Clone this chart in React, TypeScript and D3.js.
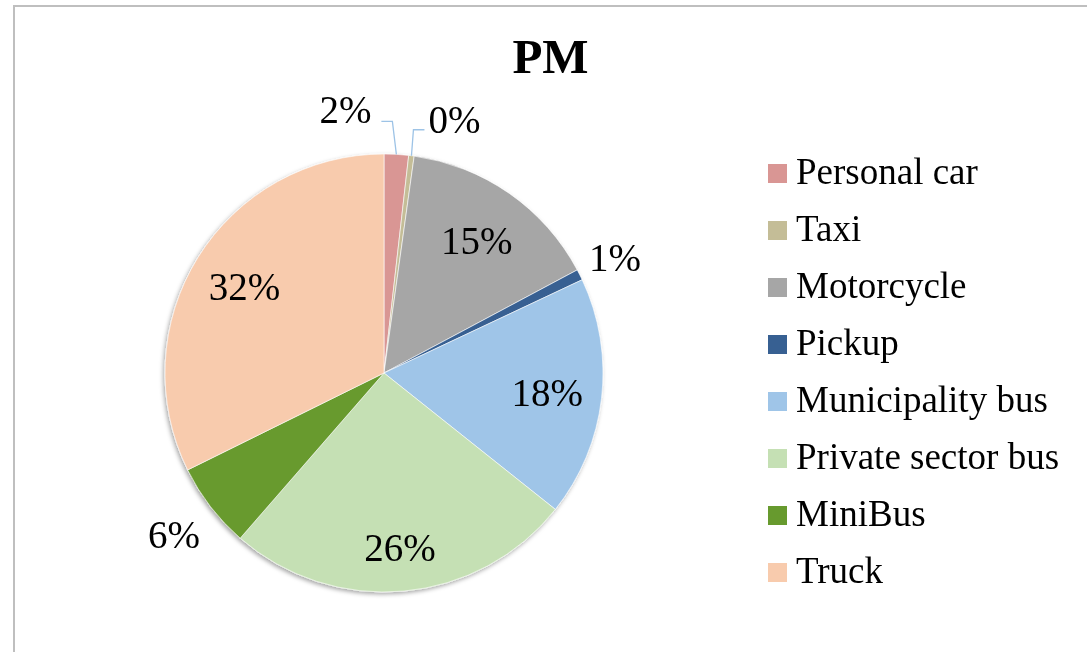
import React from "react";
import * as d3 from "d3";

const categories = [
  "Personal car",
  "Taxi",
  "Motorcycle",
  "Pickup",
  "Municipality bus",
  "Private sector bus",
  "MiniBus",
  "Truck",
];
const values = [1.8, 0.4, 15.0, 0.8, 17.7, 25.7, 6.3, 32.3];
const colors = [
  "#D99694",
  "#C4BD97",
  "#A6A6A6",
  "#376092",
  "#9FC5E8",
  "#C5E0B4",
  "#679A2E",
  "#F8CBAD",
];
const title = "PM";

// label layout: "in" = inside, "out" = outside, "lead" = with leader line
const labelMode = ["lead", "lead", "in", "out", "in", "in", "out", "in"];
const labelRadius = [1, 1, 0.74, 1.18, 0.75, 0.8, 1.21, 0.75];

const W = 1087;
const H = 652;
const cx = 384;
const cy = 373;
const R = 219;
const FONT = "'Liberation Serif', 'Times New Roman', serif";
const LABEL_FS = 39;

export default function App() {
  const total = d3.sum(values);
  const pie = d3
    .pie<number>()
    .sort(null)
    .value((d) => d)
    .startAngle(0)
    .endAngle(2 * Math.PI);
  const arcs = pie(values);
  const arcGen = d3.arc<d3.PieArcDatum<number>>().innerRadius(0).outerRadius(R);

  const pct = (v: number) => `${Math.round((v / total) * 100)}%`;
  const polar = (a: number, r: number) => [cx + r * Math.sin(a), cy - r * Math.cos(a)];

  const legendY = d3.scalePoint<string>().domain(categories).range([164, 563]);

  const leadOffsets: Record<number, { lx: number; ly: number; side: number; bl: number }> = {
    0: { lx: -4, ly: -33, side: -1, bl: 2 },
    1: { lx: 2, ly: -26, side: 1, bl: 3 },
  };

  return (
    <svg
      width={W}
      height={H}
      style={{ position: "absolute", left: 0, top: 0, display: "block", background: "#fff" }}
    >
      <defs>
        <filter id="sh" x="-20%" y="-20%" width="140%" height="140%">
          <feDropShadow dx="-1.5" dy="2" stdDeviation="2" floodColor="#000" floodOpacity="0.35" />
        </filter>
      </defs>
      <rect x={14} y={6} width={1080} height={700} fill="#fff" stroke="#BFBFBF" strokeWidth={2} />
      <text
        x={550.5}
        y={73}
        textAnchor="middle"
        fontFamily={FONT}
        fontWeight="bold"
        fontSize={49}
        fill="#000"
      >
        {title}
      </text>
      <g filter="url(#sh)">
        {arcs.map((a, i) => (
          <path
            key={i}
            d={arcGen(a) || ""}
            transform={`translate(${cx},${cy})`}
            fill={colors[i]}
            stroke="#fff"
            strokeWidth={0.6}
          />
        ))}
      </g>
      {arcs.map((a, i) => {
        const mid = (a.startAngle + a.endAngle) / 2;
        const mode = labelMode[i];
        if (mode === "in" || mode === "out") {
          const [x, y] = polar(mid, R * labelRadius[i]);
          return (
            <text key={i} x={x} y={y} dy="0.35em" textAnchor="middle" fontFamily={FONT} fontSize={LABEL_FS}>
              {pct(values[i])}
            </text>
          );
        }
        const [ex, ey] = polar(mid, R);
        const o = leadOffsets[i];
        const bx = ex + o.lx;
        const by = ey + o.ly;
        const hx = bx + o.side * 11;
        const tx = hx + o.side * (o.side < 0 ? 10 : 4);
        return (
          <g key={i}>
            <polyline
              points={`${ex},${ey} ${bx},${by} ${hx},${by}`}
              fill="none"
              stroke="#9DC3E6"
              strokeWidth={1.3}
            />
            <text
              x={tx}
              y={by + o.bl}
              textAnchor={o.side < 0 ? "end" : "start"}
              fontFamily={FONT}
              fontSize={LABEL_FS}
            >
              {pct(values[i])}
            </text>
          </g>
        );
      })}
      {categories.map((c, i) => {
        const y = legendY(c) as number;
        return (
          <g key={c}>
            <rect x={768} y={y} width={19} height={19} fill={colors[i]} />
            <text x={796} y={y + 20} fontFamily={FONT} fontSize={37} fill="#000">
              {c}
            </text>
          </g>
        );
      })}
    </svg>
  );
}
